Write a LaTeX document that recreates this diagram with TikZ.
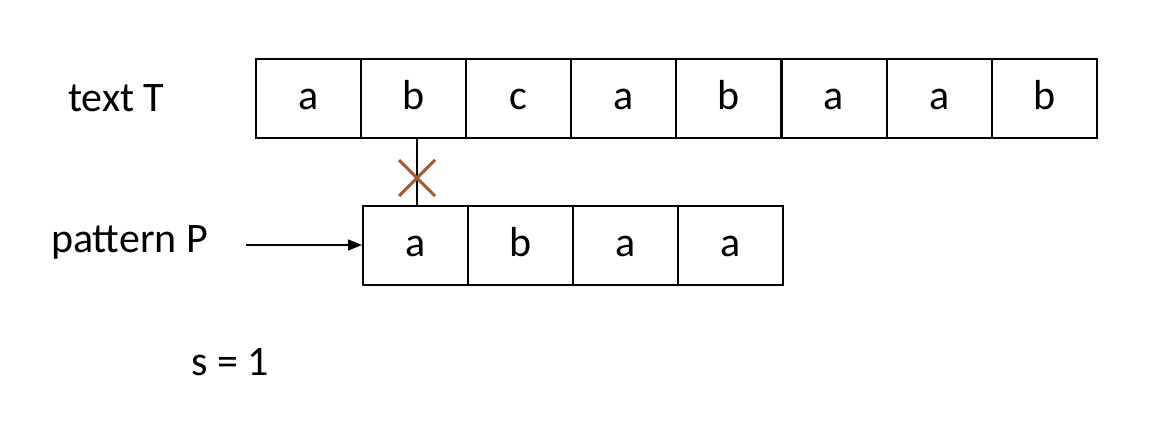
\documentclass[tikz,border=0pt]{standalone}
\usepackage{fontspec}
\setmainfont{Carlito}
\usetikzlibrary{arrows.meta,calc}
\definecolor{crossc}{RGB}{165,90,45}
\begin{document}
\begin{tikzpicture}[x=1pt,y=-1pt,
  cell/.style={draw=black,line width=2pt,minimum width=105pt,minimum height=79pt,inner sep=0pt,text height=30pt,text depth=7pt,anchor=north west,font=\fontsize{42}{46}\selectfont},
  lbl/.style={font=\fontsize{42}{46}\selectfont,inner sep=0pt,anchor=base west}]
\useasboundingbox (0,0) rectangle (1168,422);
\foreach \c [count=\i from 0] in {a,b,c,a,b,a,a,b}
  \node[cell] (t\i) at (255+105.1*\i,58) {\c};
\foreach \c [count=\i from 0] in {a,b,a,a}
  \node[cell] (p\i) at (362+105.1*\i,205) {\c};
\node[lbl] (lt) at (68,112) {text T};
\node[lbl] (lp) at (51,253) {pattern P};
\node[lbl] (ls) at (191,375) {s = 1};
\coordinate (a0) at (246,245);
\draw[line width=1.3pt,-{Triangle[length=14pt,width=11pt]}] (a0) -- (a0 -| p0.west);
\coordinate (x) at (417,178);
\draw[line width=2pt] (t1.south -| x) -- (p0.north -| x);
\draw[line width=3pt,color=crossc] ($(x)+(-18,-18)$) -- ($(x)+(18,18)$) ($(x)+(18,-18)$) -- ($(x)+(-18,18)$);
\end{tikzpicture}
\end{document}
